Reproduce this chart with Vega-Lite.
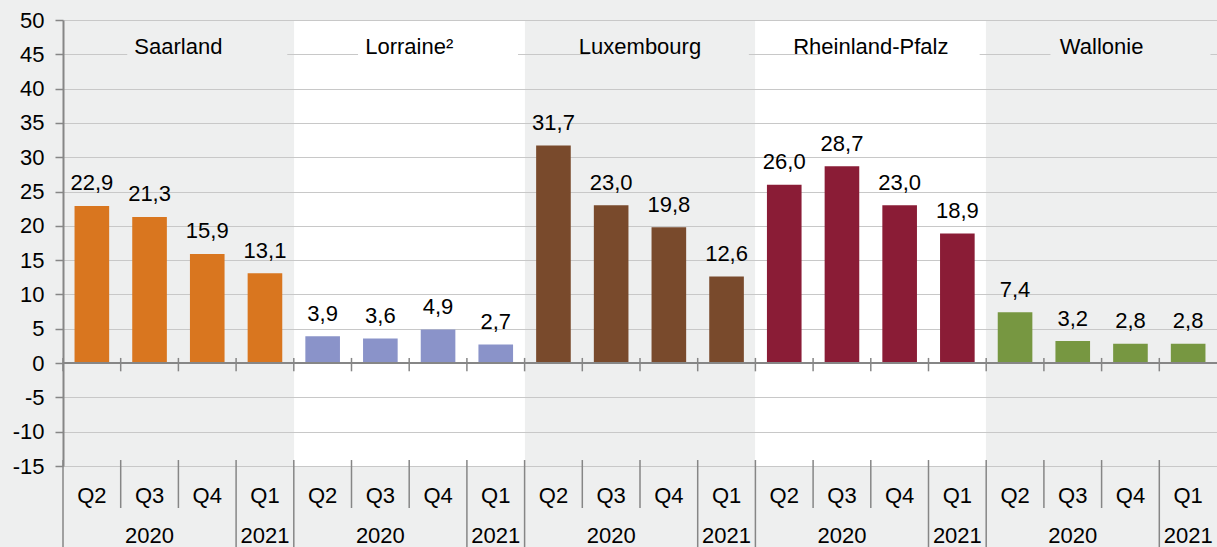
{
  "$schema": "https://vega.github.io/schema/vega-lite/v6.json",
  "width": 1154,
  "height": 446,
  "autosize": "none",
  "padding": {"left": 63, "top": 20, "right": 0, "bottom": 81},
  "background": "#eeefef",
  "config": {
    "view": {"stroke": null},
    "font": "Liberation Sans",
    "axis": {"labelOverlap": false},
    "axisY": {
      "labelOverlap": false, "labelBound": false, "labelFlush": false,
      "title": null, "grid": true, "gridColor": "#c8c8c8", "gridWidth": 1.2,
      "tickSize": 8, "tickColor": "#868686", "tickWidth": 1.5,
      "domainColor": "#868686", "domainWidth": 2,
      "labelFontSize": 22, "labelColor": "#000000", "labelPadding": 11
    },
    "locale": {"number": {"decimal": ",", "thousands": ".", "grouping": [3], "currency": ["", " €"], "minus": "-"}}
  },
  "data": {
    "values": [
      {"region": "Saarland", "quarter": "Q2", "year": "2020", "value": 22.9},
      {"region": "Saarland", "quarter": "Q3", "year": "2020", "value": 21.3},
      {"region": "Saarland", "quarter": "Q4", "year": "2020", "value": 15.9},
      {"region": "Saarland", "quarter": "Q1", "year": "2021", "value": 13.1},
      {"region": "Lorraine²", "quarter": "Q2", "year": "2020", "value": 3.9},
      {"region": "Lorraine²", "quarter": "Q3", "year": "2020", "value": 3.6},
      {"region": "Lorraine²", "quarter": "Q4", "year": "2020", "value": 4.9},
      {"region": "Lorraine²", "quarter": "Q1", "year": "2021", "value": 2.7},
      {"region": "Luxembourg", "quarter": "Q2", "year": "2020", "value": 31.7},
      {"region": "Luxembourg", "quarter": "Q3", "year": "2020", "value": 23.0},
      {"region": "Luxembourg", "quarter": "Q4", "year": "2020", "value": 19.8},
      {"region": "Luxembourg", "quarter": "Q1", "year": "2021", "value": 12.6},
      {"region": "Rheinland-Pfalz", "quarter": "Q2", "year": "2020", "value": 26.0},
      {"region": "Rheinland-Pfalz", "quarter": "Q3", "year": "2020", "value": 28.7},
      {"region": "Rheinland-Pfalz", "quarter": "Q4", "year": "2020", "value": 23.0},
      {"region": "Rheinland-Pfalz", "quarter": "Q1", "year": "2021", "value": 18.9},
      {"region": "Wallonie", "quarter": "Q2", "year": "2020", "value": 7.4},
      {"region": "Wallonie", "quarter": "Q3", "year": "2020", "value": 3.2},
      {"region": "Wallonie", "quarter": "Q4", "year": "2020", "value": 2.8},
      {"region": "Wallonie", "quarter": "Q1", "year": "2021", "value": 2.8}
    ]
  },
  "transform": [{"calculate": "datum.region + ' ' + datum.quarter + ' ' + datum.year", "as": "key"}],
  "layer": [
    {
      "mark": {"type": "bar", "width": {"band": 0.6}},
      "encoding": {
        "x": {
          "field": "key", "type": "nominal", "sort": null,
          "scale": {
            "domain": [
              "Saarland Q2 2020", "Saarland Q3 2020", "Saarland Q4 2020", "Saarland Q1 2021",
              "Lorraine² Q2 2020", "Lorraine² Q3 2020", "Lorraine² Q4 2020", "Lorraine² Q1 2021",
              "Luxembourg Q2 2020", "Luxembourg Q3 2020", "Luxembourg Q4 2020", "Luxembourg Q1 2021",
              "Rheinland-Pfalz Q2 2020", "Rheinland-Pfalz Q3 2020", "Rheinland-Pfalz Q4 2020", "Rheinland-Pfalz Q1 2021",
              "Wallonie Q2 2020", "Wallonie Q3 2020", "Wallonie Q4 2020", "Wallonie Q1 2021"
            ],
            "paddingInner": 0, "paddingOuter": 0
          },
          "axis": {
            "values": ["Lorraine² Q4 2020", "Rheinland-Pfalz Q4 2020"],
            "bandPosition": 0, "grid": true, "gridColor": "#ffffff", "gridWidth": 230.8, "gridOpacity": 1,
            "ticks": false, "labels": false, "domain": false, "title": null
          }
        },
        "y": {
          "field": "value", "type": "quantitative",
          "scale": {"domain": [-15, 50], "nice": false, "zero": false},
          "axis": {
            "values": [-15, -10, -5, 0, 5, 10, 15, 20, 25, 30, 35, 40, 45, 50],
            "tickCount": 20,
            "labelOverlap": false,
            "title": null
          }
        },
        "color": {
          "field": "region", "type": "nominal",
          "scale": {
            "domain": ["Saarland", "Lorraine²", "Luxembourg", "Rheinland-Pfalz", "Wallonie"],
            "range": ["#d9761f", "#8a93c9", "#794a2c", "#8a1c36", "#779741"]
          },
          "legend": null
        }
      }
    },
    {
      "data": {"values": [{}]},
      "mark": {"type": "rule", "color": "#868686", "strokeWidth": 2},
      "encoding": {"y": {"datum": 0}}
    },
    {
      "mark": {"type": "rule", "color": "#868686", "strokeWidth": 1.5},
      "encoding": {
        "x": {"field": "key", "type": "nominal", "bandPosition": 0},
        "y": {"datum": 0.75},
        "y2": {"datum": -1.2}
      }
    },
    {
      "transform": [{"filter": "datum.quarter === 'Q4'"}],
      "mark": {"type": "tick", "orient": "horizontal", "size": 160, "thickness": 4, "opacity": 1},
      "encoding": {
        "x": {"field": "key", "type": "nominal", "bandPosition": 0},
        "y": {"datum": 45},
        "color": {
          "condition": {"test": "datum.region === 'Lorraine²' || datum.region === 'Rheinland-Pfalz'", "value": "#ffffff"},
          "value": "#eeefef"
        }
      }
    },
    {
      "mark": {"type": "text", "fontSize": 22, "baseline": "alphabetic", "dy": -15.5, "color": "#000000"},
      "encoding": {
        "x": {"field": "key", "type": "nominal"},
        "y": {"field": "value", "type": "quantitative"},
        "text": {"field": "value", "type": "quantitative", "format": ".1f"}
      }
    },
    {
      "transform": [{"filter": "datum.quarter === 'Q4'"}],
      "mark": {"type": "text", "fontSize": 22, "baseline": "alphabetic", "color": "#000000"},
      "encoding": {
        "x": {"field": "key", "type": "nominal", "bandPosition": 0},
        "y": {"datum": 45},
        "text": {"field": "region", "type": "nominal"}
      }
    },
    {
      "mark": {"type": "text", "fontSize": 22, "baseline": "alphabetic", "color": "#000000"},
      "encoding": {
        "x": {"field": "key", "type": "nominal"},
        "y": {"datum": -20.32},
        "text": {"field": "quarter", "type": "nominal"}
      }
    },
    {
      "transform": [{"filter": "datum.quarter === 'Q3' || datum.quarter === 'Q1'"}],
      "mark": {"type": "text", "fontSize": 22, "baseline": "alphabetic", "color": "#000000"},
      "encoding": {
        "x": {"field": "key", "type": "nominal"},
        "y": {"datum": -26.22},
        "text": {"field": "year", "type": "nominal"}
      }
    },
    {
      "transform": [{"filter": "datum.quarter === 'Q3' || datum.quarter === 'Q4'"}],
      "mark": {"type": "rule", "color": "#868686", "strokeWidth": 1.5},
      "encoding": {
        "x": {"field": "key", "type": "nominal", "bandPosition": 0},
        "y": {"datum": -14.13},
        "y2": {"datum": -21.12}
      }
    },
    {
      "transform": [{"filter": "datum.quarter === 'Q2' || datum.quarter === 'Q1'"}],
      "mark": {"type": "rule", "color": "#868686", "strokeWidth": 1.5},
      "encoding": {
        "x": {"field": "key", "type": "nominal", "bandPosition": 0},
        "y": {"datum": -14.13},
        "y2": {"datum": -27}
      }
    }
  ]
}
